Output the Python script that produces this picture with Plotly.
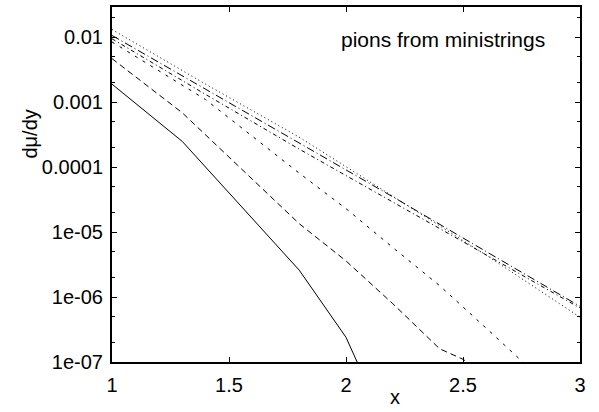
import plotly.graph_objects as go

# ---- data ----
x_solid = [1.0, 1.3, 1.8, 2.0, 2.1]
y_solid = [1.9e-3, 2.5e-4, 2.6e-6, 2.4e-7, 3.8e-8]

x_longdash = [1.0, 1.3, 1.8, 2.0, 2.2, 2.4, 2.5, 2.6]
y_longdash = [4.7e-3, 6.9e-4, 1.35e-5, 3.6e-6, 7.9e-7, 1.6e-7, 1.1e-7, 6.3e-8]

x_shortdash = [1.0, 1.4, 1.8, 2.0, 2.2, 2.4, 2.6, 2.8]
y_shortdash = [8.5e-3, 1.1e-3, 8.1e-5, 2.3e-5, 5.8e-6, 1.5e-6, 3.3e-7, 7.1e-8]

x_dashdot2 = [1.0, 1.4, 1.8, 2.2, 2.6, 3.0]
y_dashdot2 = [9.5e-3, 1.32e-3, 1.9e-4, 2.9e-5, 4.5e-6, 6.8e-7]

x_dashdot = [1.0, 1.4, 1.8, 2.2, 2.6, 3.0]
y_dashdot = [1.07e-2, 1.58e-3, 2.4e-4, 3.5e-5, 5.0e-6, 7.2e-7]

x_dotted = [1.0, 1.4, 1.8, 2.2, 2.6, 3.0]
y_dotted = [1.32e-2, 1.9e-3, 2.9e-4, 3.6e-5, 4.4e-6, 4.9e-7]

x_tickvals = [1, 1.5, 2, 2.5, 3]
x_ticktext = ["1", "1.5", "2", "2.5", "3"]
y_tickvals = [1e-7, 1e-6, 1e-5, 1e-4, 1e-3, 1e-2]
y_ticktext = ["1e-07", "1e-06", "1e-05", "0.0001", "0.001", "0.01"]
y_minor = [m * 10.0 ** e for e in range(-7, -1) for m in (2, 5)]

title_text = "pions from ministrings"
xlabel = "x"
ylabel = "dμ/dy"

FONT = "Arial, Liberation Sans, Helvetica, sans-serif"

series = [
    (x_solid, y_solid, "solid"),
    (x_longdash, y_longdash, "6px,4px"),
    (x_shortdash, y_shortdash, "3px,6px"),
    (x_dashdot2, y_dashdot2, "4px,3px,1px,3px"),
    (x_dashdot, y_dashdot, "8px,3px,1px,3px"),
    (x_dotted, y_dotted, "1px,3px"),
]

fig = go.Figure()
for xs, ys, dash in series:
    fig.add_trace(go.Scatter(x=xs, y=ys, mode="lines",
                             line=dict(color="black", width=1, dash=dash),
                             showlegend=False, hoverinfo="skip"))

fig.update_layout(
    width=599, height=412,
    margin=dict(l=112, r=19, t=5, b=50),
    paper_bgcolor="white", plot_bgcolor="white",
    font=dict(family=FONT, size=20, color="black"),
    showlegend=False,
)
fig.update_xaxes(
    range=[1, 3], tickvals=x_tickvals, ticktext=x_ticktext,
    showgrid=False, zeroline=False,
    showline=True, linecolor="black", linewidth=2, mirror="allticks",
    ticks="inside", ticklen=5, tickwidth=1, tickcolor="black",
    ticklabelstandoff=4,
)
fig.update_yaxes(
    type="log", range=[-7, -1.533],
    tickvals=y_tickvals, ticktext=y_ticktext,
    showgrid=False, zeroline=False,
    showline=True, linecolor="black", linewidth=2, mirror="allticks",
    ticks="inside", ticklen=5, tickwidth=1, tickcolor="black",
    ticklabelstandoff=3,
    minor=dict(tickvals=y_minor, ticks="inside", ticklen=3, tickcolor="black", showgrid=False),
)

fig.add_annotation(text=title_text, xref="paper", yref="paper",
                   x=0.708, y=0.908, showarrow=False,
                   xanchor="center", yanchor="middle",
                   font=dict(family=FONT, size=21, color="black"))
fig.add_annotation(text=xlabel, xref="paper", yref="paper",
                   x=0.605, y=-0.098, showarrow=False,
                   xanchor="center", yanchor="middle",
                   font=dict(family=FONT, size=20, color="black"))
fig.add_annotation(text=ylabel, xref="paper", yref="paper",
                   x=-0.175, y=0.641, showarrow=False, textangle=-90,
                   xanchor="center", yanchor="middle",
                   font=dict(family=FONT, size=20, color="black"))

fig.write_html("out.html")
